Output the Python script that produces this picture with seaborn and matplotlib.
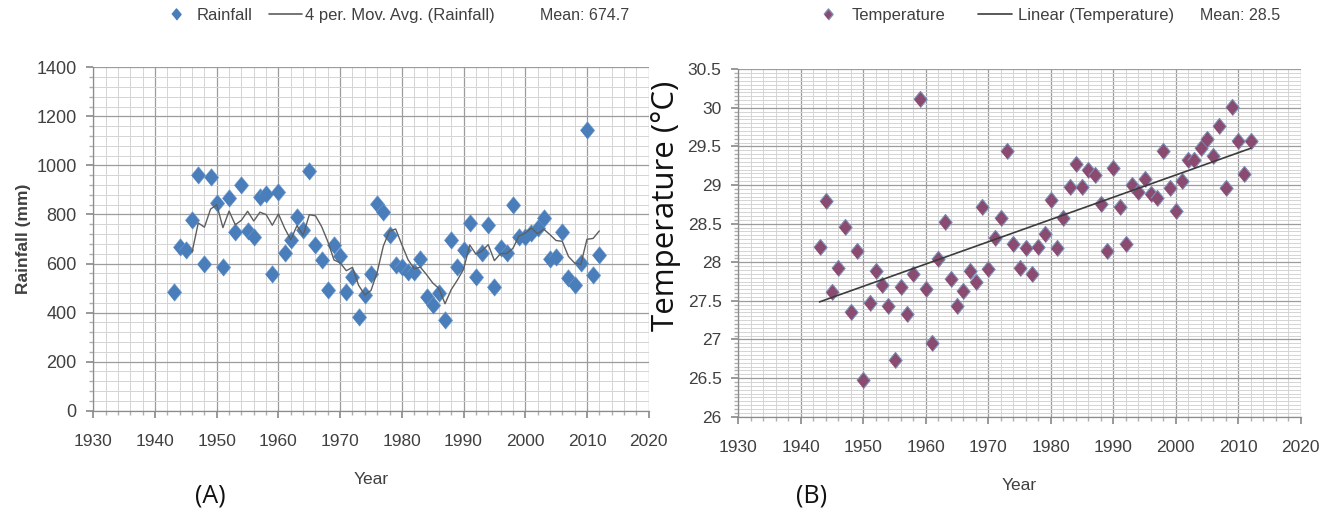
import numpy as np
import pandas as pd
import matplotlib
matplotlib.use("Agg")
import matplotlib.pyplot as plt
from matplotlib.lines import Line2D
from matplotlib.ticker import MultipleLocator, FuncFormatter
import seaborn as sns

# --- données ---
YEARS = list(range(1943, 2013))

RAINFALL = [485, 666, 657, 777, 961, 598, 952, 848, 587, 868,
            729, 922, 733, 709, 873, 883, 559, 893, 641, 695,
            789, 736, 976, 677, 613, 492, 676, 630, 485, 546,
            383, 473, 559, 843, 811, 716, 593, 587, 567, 567,
            620, 465, 431, 478, 370, 695, 587, 655, 765, 546,
            641, 755, 505, 662, 641, 839, 709, 709, 723, 743,
            785, 620, 627, 730, 539, 512, 601, 1143, 553, 634]

TEMPERATURE = [28.20, 28.79, 27.61, 27.92, 28.46, 27.36, 28.15, 26.48, 27.47, 27.89,
               27.70, 27.44, 26.74, 27.68, 27.33, 27.85, 30.11, 27.65, 26.96, 28.04,
               28.52, 27.78, 27.44, 27.63, 27.89, 27.74, 28.72, 27.91, 28.31, 28.57,
               29.44, 28.24, 27.92, 28.18, 27.85, 28.20, 28.37, 28.81, 28.18, 28.57,
               28.98, 29.27, 28.98, 29.20, 29.13, 28.76, 28.15, 29.22, 28.72, 28.24,
               29.00, 28.91, 29.08, 28.89, 28.83, 29.44, 28.96, 28.67, 29.05, 29.33,
               29.33, 29.48, 29.59, 29.37, 29.76, 28.96, 30.01, 29.57, 29.14, 29.57]

RAIN_MEAN = "Mean: 674.7"
TEMP_MEAN = "Mean: 28.5"
PANEL_LABELS = ["(A)", "(B)"]

RAIN_BLUE = "#4a7ebb"
TEMP_FILL = "#8b4a6f"
TEMP_EDGE = "#7a90b8"
TEXT_COL = "#404040"
DIAMOND = [(-0.82, 0), (0, 1), (0.82, 0), (0, -1)]

df = pd.DataFrame({"Year": YEARS, "Rainfall": RAINFALL, "Temperature": TEMPERATURE})
df["MovAvg"] = df["Rainfall"].rolling(4).mean()

sns.set_theme(style="white")
plt.rcParams["font.family"] = ["Liberation Sans", "DejaVu Sans"]

fig = plt.figure(figsize=(13.3, 5.16), dpi=100)
ax1 = fig.add_axes([0.0702, 0.2041, 0.4175, 0.6655])
ax2 = fig.add_axes([0.5551, 0.1924, 0.4229, 0.6735])


def style_axes(ax, ymin, ymax, ymajor, yminor, ylabsize):
    ax.set_xlim(1930, 2020)
    ax.set_ylim(ymin, ymax)
    ax.xaxis.set_major_locator(MultipleLocator(10))
    ax.xaxis.set_minor_locator(MultipleLocator(2))
    ax.yaxis.set_major_locator(MultipleLocator(ymajor))
    ax.yaxis.set_minor_locator(MultipleLocator(yminor))
    ax.grid(True, which="major", color="#9c9c9c", lw=0.9)
    ax.grid(True, which="minor", color="#d4d4d4", lw=0.7)
    ax.set_axisbelow(True)
    for s in ["top", "right"]:
        ax.spines[s].set_visible(False)
    for s in ["left", "bottom"]:
        ax.spines[s].set_color("#8c8c8c")
        ax.spines[s].set_linewidth(0.9)
    ax.tick_params(which="major", direction="out", length=5, color="#8c8c8c",
                   left=True, bottom=True, labelcolor=TEXT_COL)
    ax.tick_params(which="minor", direction="out", length=3, color="#b0b0b0",
                   left=True, bottom=True)
    ax.tick_params(axis="x", which="major", labelsize=12.5, pad=12)
    ax.tick_params(axis="y", which="major", labelsize=ylabsize, pad=7)
    ax.set_xlabel("Year", fontsize=12.5, color=TEXT_COL, labelpad=16)


# --- (A) pluviométrie ---
style_axes(ax1, 0, 1400, 200, 40, 13)
sns.scatterplot(data=df, x="Year", y="Rainfall", ax=ax1, marker=DIAMOND, s=160,
                color=RAIN_BLUE, edgecolor="#6f9ad0", linewidth=0.4, zorder=3)
sns.lineplot(data=df, x="Year", y="MovAvg", ax=ax1, color="#5e5e5e", lw=1.0, zorder=4)
ax1.set_ylabel("Rainfall (mm)", fontsize=12.5, fontweight="bold", color=TEXT_COL,
               labelpad=4)

h_rain = [Line2D([], [], marker=DIAMOND, ls="none", markersize=8, color=RAIN_BLUE),
          Line2D([], [], color="#5e5e5e", lw=1.2)]
ax1.legend(h_rain, ["Rainfall", "4 per. Mov. Avg. (Rainfall)"], ncol=2,
           loc="center left", bbox_to_anchor=(0.120, 0.970), bbox_transform=fig.transFigure,
           frameon=False, fontsize=12, handlelength=2.0, handletextpad=0.2,
           columnspacing=1.0, borderpad=0, borderaxespad=0, labelcolor=TEXT_COL)
fig.text(540 / 1330, 0.970, RAIN_MEAN, fontsize=11.5, color=TEXT_COL, ha="left", va="center")

# --- (B) température ---
style_axes(ax2, 26, 30.5, 0.5, 0.05, 12.5)
sns.scatterplot(data=df, x="Year", y="Temperature", ax=ax2, marker=DIAMOND, s=135,
                color=TEMP_FILL, edgecolor=TEMP_EDGE, linewidth=0.8, zorder=3)
sns.regplot(data=df, x="Year", y="Temperature", ax=ax2, scatter=False, ci=None,
            line_kws={"color": "#3c3c3c", "lw": 1.2, "zorder": 4})
ax2.set_xlabel("Year", fontsize=12.5, color=TEXT_COL, labelpad=16)
ax2.set_ylabel("")
ax2.yaxis.set_major_formatter(FuncFormatter(lambda v, p: f"{v:g}"))
fig.text(666 / 1330, 1 - 206 / 516, "Temperature (°C)", rotation=90, fontsize=22.5,
         family=["Open Sans", "DejaVu Sans"], color="#111111", ha="center", va="center")

h_temp = [Line2D([], [], marker=DIAMOND, ls="none", markersize=8, color=TEMP_FILL,
                 markeredgecolor=TEMP_EDGE),
          Line2D([], [], color="#3c3c3c", lw=1.2)]
ax2.legend(h_temp, ["Temperature", "Linear (Temperature)"], ncol=2,
           loc="center left", bbox_to_anchor=(0.610, 0.970), bbox_transform=fig.transFigure,
           frameon=False, fontsize=12, handlelength=2.0, handletextpad=0.4,
           columnspacing=2.0, borderpad=0, borderaxespad=0, labelcolor=TEXT_COL)
fig.text(1200 / 1330, 0.970, TEMP_MEAN, fontsize=11.5, color=TEXT_COL, ha="left", va="center")

# --- étiquettes (A) / (B) ---
for xpos, lab in zip([210, 812], PANEL_LABELS):
    fig.text(xpos / 1330, 1 - 496 / 516, lab, fontsize=18,
             family=["Open Sans", "DejaVu Sans"], color="#111111", ha="center", va="center")

fig.savefig("out.png", dpi=100, facecolor="white")
